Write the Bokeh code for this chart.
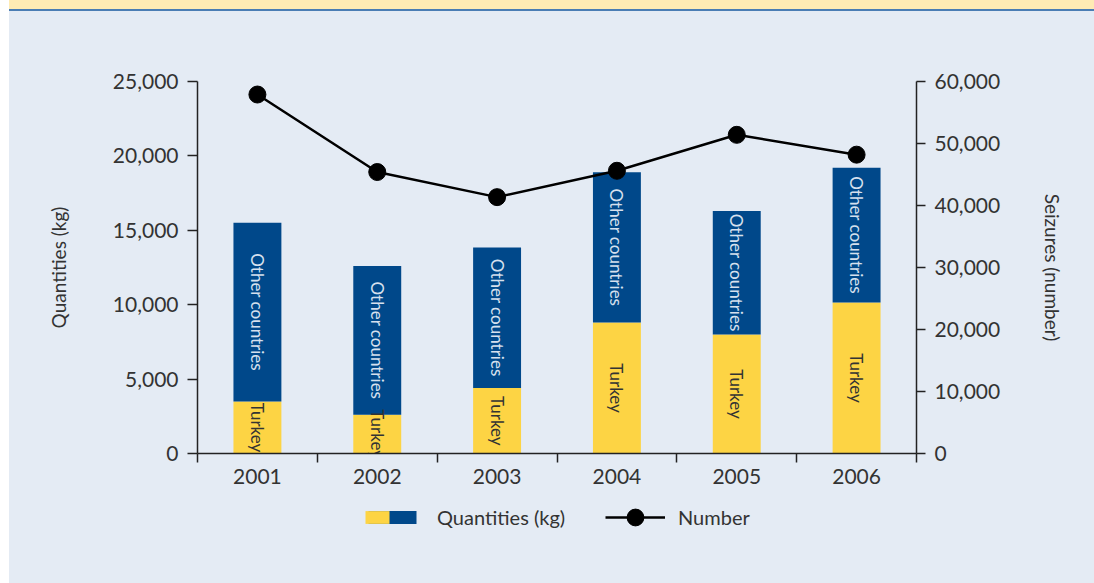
import math
from bokeh.plotting import figure
from bokeh.models import (Range1d, LinearAxis, FixedTicker, NumeralTickFormatter,
                          ColumnDataSource, Legend, LegendItem, Spacer)
from bokeh.layouts import column, row
from bokeh.core.properties import value
from bokeh.embed import file_html
from bokeh.resources import INLINE

years = ["2001", "2002", "2003", "2004", "2005", "2006"]
turkey = [3500, 2600, 4400, 8800, 8000, 10150]
other = [12000, 10000, 9450, 10100, 8300, 9050]
seizures = [57900, 45400, 41350, 45600, 51400, 48200]

FONT = "Lato"
BG = "#E4EBF4"
YELLOW = "#FDD444"
BLUE = "#00488A"
TXT = "#333333"

xpos = [i + 0.5 for i in range(len(years))]
totals = [t + o for t, o in zip(turkey, other)]
src = ColumnDataSource(dict(
    x=xpos, turkey=turkey, other=other, total=totals, seizures=seizures,
    tmid=[t / 2 for t in turkey],
    omid=[t + o / 2 for t, o in zip(turkey, other)],
    tlab=["Turkey"] * len(years), olab=["Other countries"] * len(years),
))

W = 1085
p = figure(width=W, height=494, output_backend="svg", toolbar_location=None,
           x_range=Range1d(0, len(years)), y_range=Range1d(0, 25000),
           min_border_left=188, min_border_right=178, min_border_top=70,
           min_border_bottom=52)
p.frame_align = False
p.background_fill_color = BG
p.border_fill_color = BG
p.outline_line_color = None
p.grid.visible = False
p.extra_y_ranges = {"num": Range1d(0, 60000)}

yellow_r = p.vbar(x="x", bottom=0, top="turkey", width=0.4, source=src,
                  fill_color=YELLOW, line_color=None)
blue_r = p.vbar(x="x", bottom="turkey", top="total", width=0.4, source=src,
                fill_color=BLUE, line_color=None)

p.text(x="x", y="tmid", text="tlab", source=src, angle=-math.pi / 2,
       text_align="center", text_baseline="middle", text_font=value(FONT),
       text_font_size="17px", text_color=TXT)
p.text(x="x", y="omid", text="olab", source=src, angle=-math.pi / 2,
       text_align="center", text_baseline="middle", text_font=value(FONT),
       text_font_size="17px", text_color="#D6E0EE")

line_r = p.line(x="x", y="seizures", source=src, y_range_name="num",
                line_color="black", line_width=2.5)
dot_r = p.scatter(x="x", y="seizures", source=src, y_range_name="num",
                  size=17, fill_color="black", line_color="black")

def style_axis(ax):
    ax.axis_line_color = "#222222"
    ax.axis_line_width = 1.5
    ax.major_tick_line_color = "#222222"
    ax.major_tick_line_width = 1.5
    ax.minor_tick_line_color = None
    ax.major_label_text_font = FONT
    ax.major_label_text_font_size = "21px"
    ax.major_label_text_color = TXT
    ax.axis_label_text_font = FONT
    ax.axis_label_text_font_size = "19px"
    ax.axis_label_text_font_style = "normal"
    ax.axis_label_text_color = TXT

# x axis
xa = p.xaxis[0]
style_axis(xa)
xa.ticker = FixedTicker(ticks=xpos, minor_ticks=list(range(len(years) + 1)))
xa.major_label_overrides = {x: y for x, y in zip(xpos, years)}
xa.major_tick_out = 0
xa.major_tick_in = 0
xa.minor_tick_line_color = "#222222"
xa.minor_tick_line_width = 1.5
xa.minor_tick_out = 9
xa.minor_tick_in = 0
xa.major_label_standoff = 6

# left axis
ya = p.yaxis[0]
style_axis(ya)
ya.ticker = FixedTicker(ticks=[0, 5000, 10000, 15000, 20000, 25000])
ya.formatter = NumeralTickFormatter(format="0,0")
ya.major_tick_out = 10
ya.major_tick_in = 0
ya.major_label_standoff = 9
ya.axis_label = "Quantities (kg)"
ya.axis_label_standoff = 40

# right axis
ra = LinearAxis(y_range_name="num")
style_axis(ra)
ra.ticker = FixedTicker(ticks=[0, 10000, 20000, 30000, 40000, 50000, 60000])
ra.formatter = NumeralTickFormatter(format="0,0")
ra.major_tick_out = 9
ra.major_tick_in = 0
ra.major_label_standoff = 9
ra.axis_label = "Seizures (number)"
ra.axis_label_standoff = 38
p.add_layout(ra, "right")

# legend figure (blue swatch + yellow half drawn over it)
lg = figure(width=W, height=78, output_backend="svg", toolbar_location=None,
            x_range=Range1d(0, 1), y_range=Range1d(0, 1),
            x_axis_location=None, y_axis_location=None, min_border=0)
lg.frame_align = False
lg.background_fill_color = BG
lg.border_fill_color = BG
lg.outline_line_color = None
lg.grid.visible = False
offscreen = ColumnDataSource(dict(x=[-10], y=[-10], top=[-10]))
lb = lg.vbar(x="x", top="top", width=0.1, source=offscreen, fill_color=BLUE, line_color=None)
ly = lg.vbar(x="x", top="top", width=0.1, source=offscreen, fill_color=YELLOW, line_color=None)
ll = lg.line(x="x", y="y", source=offscreen, line_color="black", line_width=2.5)
ld = lg.scatter(x="x", y="y", source=offscreen, size=17, fill_color="black", line_color="black")

common = dict(orientation="horizontal", padding=0, margin=0,
              background_fill_alpha=0, border_line_alpha=0,
              label_text_font=FONT, label_text_font_size="20px",
              label_text_color=TXT)
leg_main = Legend(items=[LegendItem(label="Quantities (kg)", renderers=[lb])],
                  location=(353, 54), glyph_width=60, label_standoff=15,
                  glyph_height=16, label_height=24, **common)
leg_half = Legend(items=[LegendItem(label="", renderers=[ly])],
                  location=(353, 54), glyph_width=30, label_standoff=0,
                  label_width=0, glyph_height=16, label_height=24, **common)
leg_num = Legend(items=[LegendItem(label="Number", renderers=[ll, ld])],
                 location=(596, 45), glyph_width=60, label_standoff=13,
                 glyph_height=42, label_height=42, **common)
lg.add_layout(leg_main, "center")
lg.add_layout(leg_half, "center")
lg.add_layout(leg_num, "center")

top_band = Spacer(width=W, height=9, styles={"background-color": "#FFEBB4"})
blue_line = Spacer(width=W, height=2, styles={"background-color": "#4A7DB4"})
left_white = Spacer(width=9, height=583, styles={"background-color": "white"})

body = column(top_band, blue_line, p, lg, spacing=0, styles={"background-color": BG})
layout = row(left_white, body, spacing=0)

open("out.html", "w").write(file_html(layout, INLINE))
